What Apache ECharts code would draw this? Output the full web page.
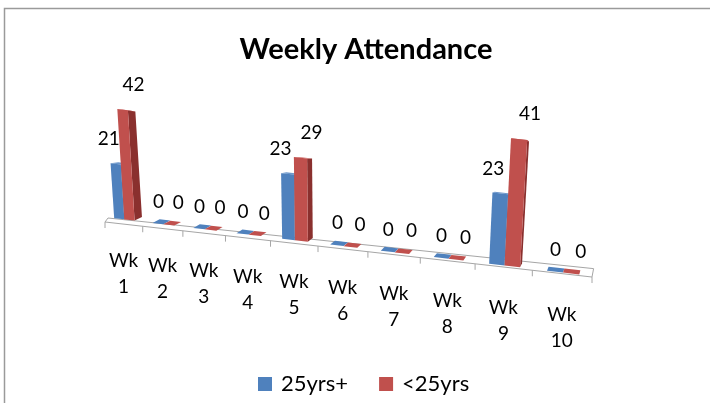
<!DOCTYPE html>
<html>
<head>
<meta charset="utf-8">
<title>Weekly Attendance</title>
<script src="https://cdn.jsdelivr.net/npm/echarts@6/dist/echarts.min.js"></script>
<style>
  html, body { margin: 0; padding: 0; background: #fff; }
  #chart { width: 710px; height: 403px; }
</style>
</head>
<body>
<div id="chart"></div>
<script>
const categories = ['Wk 1', 'Wk 2', 'Wk 3', 'Wk 4', 'Wk 5', 'Wk 6', 'Wk 7', 'Wk 8', 'Wk 9', 'Wk 10'];
const seriesNames = ['25yrs+', '<25yrs'];
const olderData = [21, 0, 0, 0, 23, 0, 0, 0, 23, 0];
const youngerData = [42, 0, 0, 0, 29, 0, 0, 0, 41, 0];

const FONT = 'Lato, "Open Sans", sans-serif';
const colors = ['#4F81BD', '#C0504D'];
const sideColors = ['#37649a', '#8a302e'];
const topColors = ['#6d97cb', '#cf6c69'];

// the grid is a flat cartesian one, bent afterwards into the excel-like 3d view
const GRID_LEFT = 105, GRID_W = 487, GRID_TOP = 60, GRID_H = 130, Y_MAX = 50;
const CAT_W = GRID_W / categories.length;
const PX_PER_UNIT = GRID_H / Y_MAX;

function toT(px) { return (px - GRID_LEFT) / CAT_W; }
function warpX(px) { const t = toT(px); return GRID_LEFT + 36.5 * t + 1.22 * t * t; }
function floorY(x) { return 222 + 0.113 * (x - GRID_LEFT); }

function renderBar(idx) {
  return function (params, api) {
    const i = api.value(0), v = api.value(1);
    const off = idx === 0 ? [0.25, 0.52] : [0.52, 0.79];
    const pl = api.coord([i + off[0], 0]);
    const pr = api.coord([i + off[1], 0]);
    const pv = api.coord([i + (off[0] + off[1]) / 2, v]);
    const t = toT((pl[0] + pr[0]) / 2);
    const h = (pl[1] - pv[1]) * (2.59 + 0.06 * t) / PX_PER_UNIT;
    const xl = warpX(pl[0]), xr = warpX(pr[0]);
    const baseOff = -5 + 0.4 * t;
    const lean = x => (x - 336) * 0.0003 * h;
    const bl = [xl, floorY(xl) + baseOff], br = [xr, floorY(xr) + baseOff];
    const tl = [xl + lean(xl), bl[1] - h], tr = [xr + lean(xr), br[1] - h];
    const back = (p, hh) => [p[0] + 0.014 * (660 - p[0]), p[1] - 3.5 - 0.06 * t + 0.045 * hh];
    const tlB = back(tl, h), trB = back(tr, h), brB = back(br, 0);

    const children = [
      { type: 'polygon', shape: { points: [br, tr, trB, brB] }, style: { fill: sideColors[idx] } },
      { type: 'polygon', shape: { points: [tl, tr, trB, tlB] }, style: { fill: h > 0 ? topColors[idx] : colors[idx] } }
    ];
    if (h > 0) {
      children.push({ type: 'polygon', shape: { points: [bl, br, tr, tl] }, style: { fill: colors[idx] } });
    }
    const txt = String(v);
    const shift = idx === 0 ? -(txt.length * 4.5 - 2) : txt.length * 4.5 + 2;
    children.push({
      type: 'text',
      style: {
        text: txt,
        x: (tl[0] + tr[0]) / 2 + shift + (v === 0 ? 3 : 0),
        y: (tl[1] + tr[1]) / 2 - (v === 0 ? 22 : 25),
        fill: '#000',
        font: '19px ' + FONT,
        align: 'center', textAlign: 'center',
        verticalAlign: 'middle', textVerticalAlign: 'middle'
      }
    });
    return { type: 'group', children: children };
  };
}

function renderFloor(params, api) {
  const p0 = api.coord([0, 0]);
  const p1 = api.coord([categories.length, 0]);
  const x0 = warpX(p0[0]), x1 = warpX(p1[0]);
  const fl = [x0, floorY(x0)], fr = [x1, floorY(x1)];
  const children = [{
    type: 'polygon',
    shape: { points: [fl, fr, [fr[0] + 1.6, fr[1] - 8.4], [fl[0] + 3, fl[1] - 4]] },
    style: { fill: '#fff', stroke: '#a6a6a6', lineWidth: 1 }
  }];
  for (let i = 0; i <= categories.length; i++) {
    const x = warpX(api.coord([i, 0])[0]);
    children.push({
      type: 'line',
      shape: { x1: x, y1: floorY(x), x2: x, y2: floorY(x) + 6 },
      style: { stroke: '#a6a6a6', lineWidth: 1 }
    });
  }
  return { type: 'group', children: children };
}

function renderCategory(params, api) {
  const i = api.value(0);
  const x = warpX(api.coord([i + 0.5, 0])[0]);
  return {
    type: 'text',
    style: {
      text: categories[i].replace(' ', '\n'),
      x: x,
      y: floorY(x) + 24 + 0.45 * i,
      fill: '#000',
      font: '19px ' + FONT,
      lineHeight: 26,
      align: 'center', textAlign: 'center',
      verticalAlign: 'top', textVerticalAlign: 'top'
    }
  };
}

const chart = echarts.init(document.getElementById('chart'));
chart.setOption({
  animation: false,
  backgroundColor: '#fff',
  title: {
    text: 'Weekly Attendance',
    left: 361,
    textAlign: 'center',
    top: 30,
    textStyle: { fontFamily: FONT, fontSize: 29, fontWeight: 'bold', color: '#000' }
  },
  legend: {
    data: seriesNames,
    left: 258,
    top: 373,
    padding: 0,
    icon: 'rect',
    itemWidth: 14,
    itemHeight: 14,
    itemGap: 31,
    textStyle: { fontFamily: FONT, fontSize: 22, color: '#000', padding: [0, 0, 0, 4] }
  },
  graphic: [{
    type: 'rect',
    shape: { x: 4.5, y: 8.5, width: 800, height: 500 },
    style: { fill: 'none', stroke: '#9a9a9a', lineWidth: 1.5 },
    silent: true
  }],
  grid: { left: GRID_LEFT, width: GRID_W, top: GRID_TOP, height: GRID_H },
  xAxis: { type: 'value', min: 0, max: categories.length, show: false },
  yAxis: { type: 'value', min: 0, max: Y_MAX, show: false },
  series: [
    {
      type: 'custom',
      renderItem: renderFloor,
      data: [[0]],
      clip: false,
      silent: true,
      z: 1
    },
    {
      name: seriesNames[0],
      type: 'custom',
      renderItem: renderBar(0),
      itemStyle: { color: colors[0] },
      data: olderData.map((v, i) => [i, v]),
      clip: false,
      z: 2
    },
    {
      name: seriesNames[1],
      type: 'custom',
      renderItem: renderBar(1),
      itemStyle: { color: colors[1] },
      data: youngerData.map((v, i) => [i, v]),
      clip: false,
      z: 3
    },
    {
      type: 'custom',
      renderItem: renderCategory,
      data: categories.map((c, i) => [i]),
      clip: false,
      silent: true,
      z: 4
    }
  ]
});
</script>
</body>
</html>
